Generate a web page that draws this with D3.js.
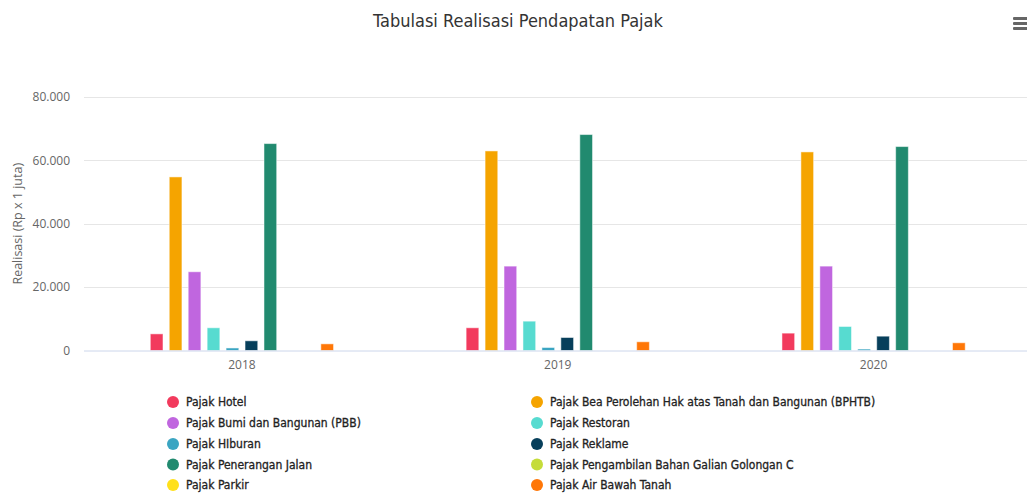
<!DOCTYPE html>
<html lang="id">
<head>
<meta charset="UTF-8">
<title>Tabulasi Realisasi Pendapatan Pajak</title>
<script src="https://cdn.jsdelivr.net/npm/d3@7"></script>
<style>
  body { margin: 0; background: #fff; overflow: hidden; }
  svg { display: block; font-family: "Open Sans", "DejaVu Sans", sans-serif; }
</style>
</head>
<body>
<div id="chart"></div>
<script>
// data
const years = ['2018', '2019', '2020'];
const seriesNames = [
  'Pajak Hotel',
  'Pajak Bea Perolehan Hak atas Tanah dan Bangunan (BPHTB)',
  'Pajak Bumi dan Bangunan (PBB)',
  'Pajak Restoran',
  'Pajak HIburan',
  'Pajak Reklame',
  'Pajak Penerangan Jalan',
  'Pajak Pengambilan Bahan Galian Golongan C',
  'Pajak Parkir',
  'Pajak Air Bawah Tanah'
];
const seriesColors = ['#f23a5d', '#f5a400', '#c066df', '#57dbd0', '#3ba5c2', '#073f5b', '#218a6f', '#c5dc3a', '#ffe01a', '#ff7707'];
const values2018 = [5250, 54780, 24850, 7170, 800, 3060, 65300, 0, 0, 2100];
const values2019 = [7170, 62980, 26630, 9260, 950, 4100, 68150, 0, 0, 2750];
const values2020 = [5480, 62670, 26630, 7580, 450, 4520, 64360, 0, 0, 2430];
const yTicks = [0, 20000, 40000, 60000, 80000];

const valuesByYear = [values2018, values2019, values2020];

const width = 1027, height = 493;
const margin = { top: 97, left: 84, bottom: 350.5 };
const plotRight = 1031.5; // plot area runs a little past the visible edge

const svg = d3.select('#chart').append('svg')
  .attr('width', width)
  .attr('height', height);

const x = d3.scaleBand()
  .domain(years)
  .range([margin.left, plotRight])
  .padding(0);

// series inside each year: group takes the middle 60% of the band
const groupW = x.bandwidth() * 0.6;
const xInner = d3.scaleBand()
  .domain(d3.range(seriesNames.length))
  .range([x.bandwidth() * 0.2, x.bandwidth() * 0.2 + groupW])
  .paddingOuter(0.165)
  .paddingInner(0.33);

const y = d3.scaleLinear()
  .domain([0, 80000])
  .range([margin.bottom, margin.top]);

// title
svg.append('text')
  .attr('x', 518).attr('y', 27)
  .attr('text-anchor', 'middle')
  .style('font-family', '"DejaVu Sans Condensed", "DejaVu Sans", sans-serif')
  .style('font-size', '18px')
  .attr('fill', '#333')
  .text('Tabulasi Realisasi Pendapatan Pajak');

// menu icon
const menu = svg.append('g').attr('transform', 'translate(1013,17)');
[0, 5, 10].forEach(dy => {
  menu.append('rect').attr('x', 0).attr('y', dy).attr('width', 16).attr('height', 3)
    .attr('rx', 1).attr('fill', '#666');
});

// gridlines
svg.append('g')
  .selectAll('line')
  .data(yTicks.filter(d => d > 0))
  .enter().append('line')
  .attr('x1', margin.left).attr('x2', width)
  .attr('y1', d => Math.round(y(d)) + 0.5).attr('y2', d => Math.round(y(d)) + 0.5)
  .attr('stroke', '#e6e6e6');

// y axis labels
const fmt = d => d === 0 ? '0' : d3.format(',')(d).replace(/,/g, '.');
const yAxis = svg.append('g')
  .attr('transform', `translate(${margin.left - 14},0)`)
  .call(d3.axisLeft(y).tickValues(yTicks).tickFormat(fmt).tickSize(0).tickPadding(0));
yAxis.select('.domain').remove();
yAxis.selectAll('text')
  .style('font-size', '12px')
  .style('font-family', '"Open Sans", sans-serif')
  .attr('fill', '#666');

// y title
svg.append('text')
  .attr('transform', `translate(22,${(margin.top + margin.bottom) / 2}) rotate(-90)`)
  .attr('text-anchor', 'middle')
  .style('font-size', '12.5px')
  .attr('fill', '#666')
  .text('Realisasi (Rp x 1 juta)');

// bars
const groups = svg.append('g')
  .selectAll('g')
  .data(years)
  .enter().append('g')
  .attr('transform', d => `translate(${x(d)},0)`);

groups.selectAll('rect')
  .data((d, i) => valuesByYear[i].map((v, s) => ({ s, v })))
  .enter().append('rect')
  .attr('x', d => xInner(d.s))
  .attr('y', d => y(d.v))
  .attr('width', xInner.bandwidth())
  .attr('height', d => y(0) - y(d.v))
  .attr('fill', d => seriesColors[d.s])
  .attr('stroke', '#fff')
  .attr('stroke-opacity', 0.5)
  .attr('stroke-width', 1);

// x axis
const xAxis = svg.append('g')
  .attr('transform', `translate(0,${margin.bottom})`)
  .call(d3.axisBottom(x).tickSize(0).tickPadding(10));
xAxis.select('.domain').attr('stroke', '#ccd6eb').attr('d', `M${margin.left},0.5H${width}`);
xAxis.selectAll('text')
  .style('font-size', '12px')
  .style('font-family', '"Open Sans", sans-serif')
  .attr('fill', '#666');

// legend, two columns, row by row
const legendCols = [173, 537];
const legendRows = [402, 423, 444, 464.5, 485];
const legend = svg.append('g')
  .selectAll('g')
  .data(seriesNames)
  .enter().append('g')
  .attr('transform', (d, i) => `translate(${legendCols[i % 2]},${legendRows[Math.floor(i / 2)]})`);
legend.append('circle')
  .attr('r', 6)
  .attr('fill', (d, i) => seriesColors[i]);
legend.append('text')
  .attr('x', 13).attr('dy', '0.35em')
  .style('font-family', '"DejaVu Sans Condensed", sans-serif')
  .style('font-size', '12px')
  .attr('fill', '#222')
  .attr('stroke', '#222')
  .attr('stroke-width', 0.3)
  .text(d => d);
</script>
</body>
</html>
